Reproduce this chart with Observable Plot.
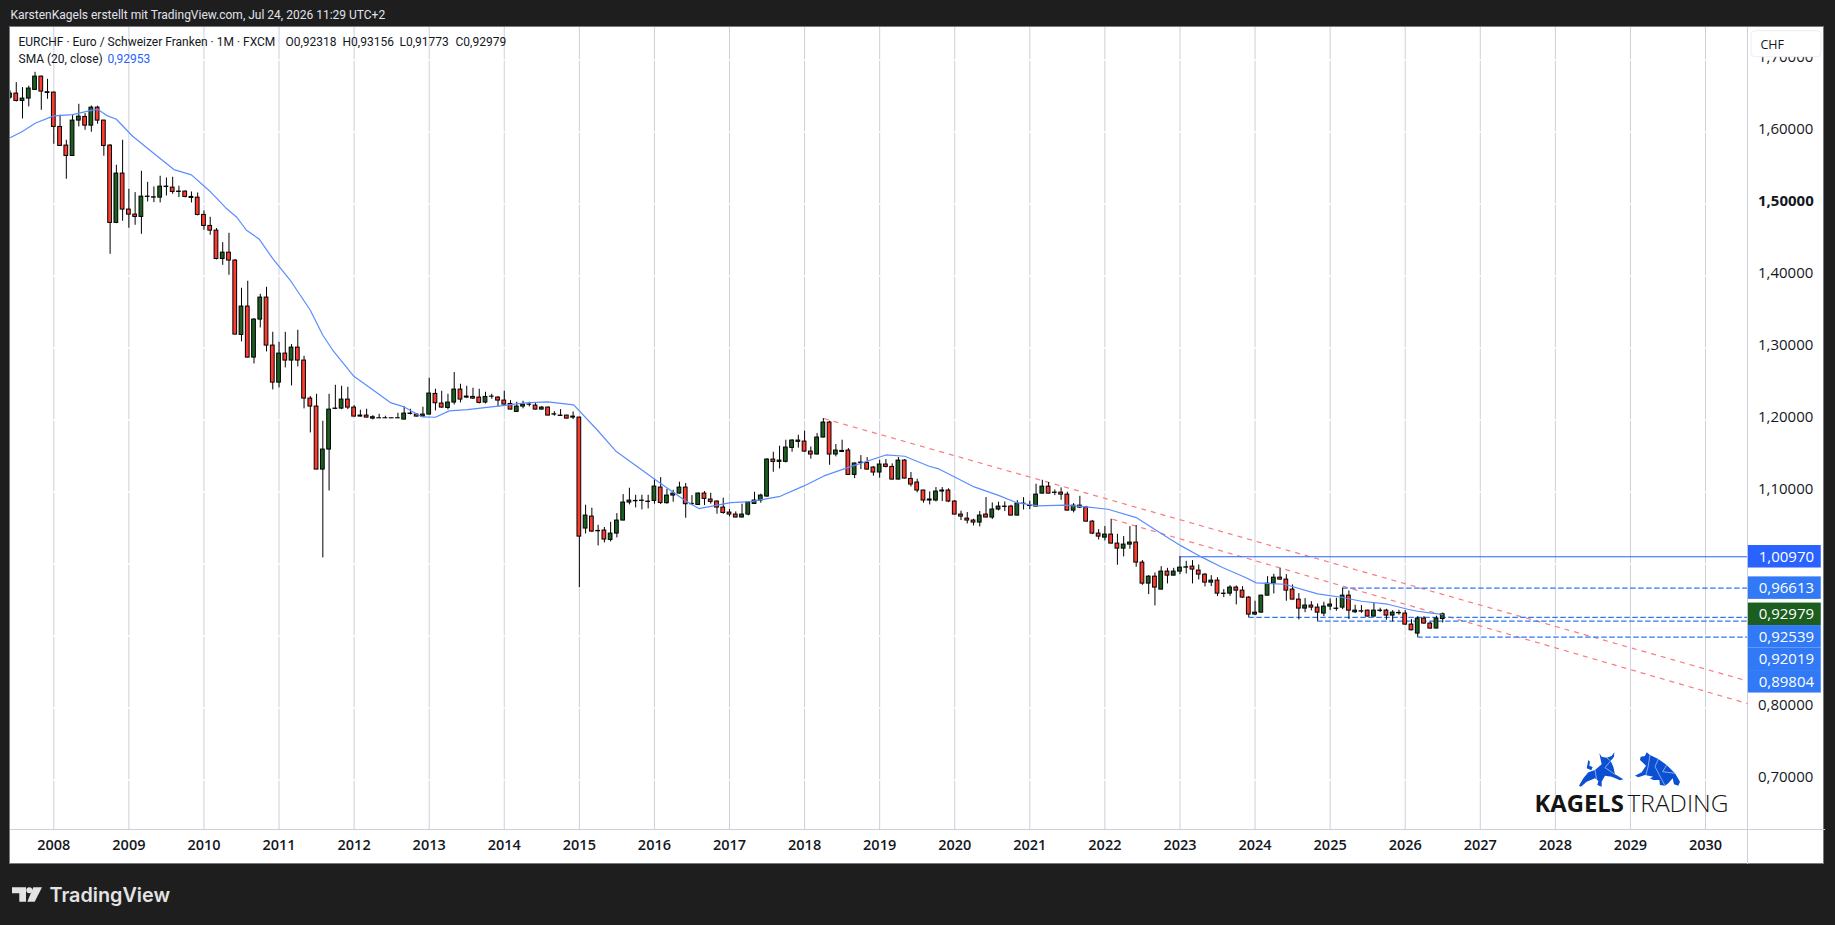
<!DOCTYPE html>
<html><head><meta charset="utf-8">
<script src="https://cdn.jsdelivr.net/npm/d3@7"></script>
<script src="https://cdn.jsdelivr.net/npm/@observablehq/plot@0.6"></script>
<style>
html,body{margin:0;padding:0;background:#1e1e1e;overflow:hidden;width:1835px;height:925px}
#panel{position:absolute;left:9px;top:26px;width:1813px;height:836px;background:#fff;border:1px solid #77797e;box-sizing:content-box}
#chart{position:absolute;left:0;top:0}
#chart svg{background:transparent;display:block}
#deco{position:absolute;left:0;top:0;pointer-events:none}
</style></head><body>
<div id="panel"></div><div id="chart"></div>
<svg id="deco" width="1835" height="925">
  <g fill="#e3e3e3"><path d="M12 887.3H26V901.7H19.3V893.3H12Z"/><circle cx="29.3" cy="890.3" r="3"/><path d="M33.3 887.3H42L34.7 901.7H27.3Z"/></g>
  <g transform="translate(1570 745) scale(.3333)" fill="#0b50d2">
    <path d="M27 122L40 100L55 82L75 75L95 58L88 25L95 35L110 38L125 33L133 22L132 35L122 48L130 65L135 88L160 103L150 106L125 95L105 92L95 110L95 125L82 120L85 108L75 100L50 110L33 125Z"/>
    <path d="M64 76L50 70L52 60L55 45L60 50L58 62L68 66Z"/>
    <path d="M195 92L215 82L228 62L210 45L212 35L225 33L230 22L240 30L265 42L290 60L315 85L330 110L325 122L312 118L308 100L295 115L285 122L270 120L268 105L250 105L240 100L250 95L225 90L205 97Z"/>
    <g stroke="#c6d6f5" stroke-width="2" fill="none"><path d="M75 75L80 105M110 38L122 48L105 68L135 88M240 30L235 62L228 90M265 42L255 65L285 122M290 60L278 80L315 85"/></g>
  </g>
</svg>
<script>
const firstMonth = -7; // month index, 0 = January 2008
const open = [1.6474,1.6530,1.6428,1.6461,1.6581,1.6766,1.6549,
1.6544,1.6067,1.5808,1.5664,1.6155,1.6206,1.6085,1.6335,1.6155,1.5808,1.4734,1.5419,
1.4919,1.4849,1.4817,1.5099,1.5085,1.5085,1.5238,1.5224,1.5169,1.5169,1.5081,1.5085,
1.4845,1.4692,1.4627,1.4233,1.4321,1.4211,1.3178,1.3572,1.2863,1.3391,1.3697,1.3030,
1.2516,1.2919,1.2822,1.3002,1.2822,1.2294,1.2183,1.1308,1.1586,1.2151,1.2155,1.2280,
1.2169,1.2044,1.2058,1.2016,1.2021,1.2021,1.2021,1.2020,1.2002,1.2086,1.2072,1.2044,
1.2072,1.2359,1.2225,1.2164,1.2239,1.2419,1.2308,1.2317,1.2308,1.2239,1.2322,1.2308,
1.2266,1.2220,1.2109,1.2183,1.2211,1.2197,1.2141,1.2169,1.2076,1.2058,1.2058,1.2030,
1.2030,1.0489,1.0655,1.0456,1.0461,1.0331,1.0419,1.0600,1.0850,1.0873,1.0877,1.0863,
1.0873,1.1058,1.0841,1.0947,1.0975,1.1058,1.0831,1.0817,1.0975,1.0892,1.0864,1.0780,
1.0711,1.0683,1.0642,1.0683,1.0831,1.0878,1.0933,1.1447,1.1415,1.1415,1.1609,1.1693,
1.1697,1.1558,1.1517,1.1753,1.1961,1.1517,1.1553,1.1572,1.1234,1.1405,1.1401,1.1336,
1.1267,1.1378,1.1345,1.1169,1.1433,1.1178,1.1128,1.1017,1.0878,1.0878,1.1003,1.1017,
1.0864,1.0683,1.0627,1.0600,1.0572,1.0683,1.0642,1.0753,1.0794,1.0794,1.0669,1.0835,
1.0807,1.0794,1.0974,1.1071,1.0988,1.0988,1.0960,1.0738,1.0807,1.0780,1.0585,1.0419,
1.0363,1.0405,1.0280,1.0210,1.0266,1.0294,1.0016,0.9724,0.9821,0.9641,0.9891,0.9835,
0.9891,0.9951,0.9960,0.9905,0.9849,0.9738,0.9766,0.9585,0.9585,0.9669,0.9627,0.9530,
0.9294,0.9321,0.9557,0.9724,0.9807,0.9780,0.9641,0.9502,0.9377,0.9419,0.9391,0.9308,
0.9405,0.9377,0.9391,0.9557,0.9326,0.9340,0.9349,0.9266,0.9349,0.9349,0.9280,0.9317,
0.9308,0.9155,0.9030,0.9238,0.9169,0.9100,0.92318];
const high = [1.657,1.6683,1.6613,1.6632,1.6826,1.6771,1.6729,
1.6550,1.6229,1.5882,1.6229,1.6382,1.6252,1.6358,1.6354,1.6160,1.5821,1.5535,1.5882,
1.5201,1.5155,1.5451,1.5298,1.5233,1.5382,1.5358,1.5368,1.5243,1.5178,1.5164,1.5150,
1.4900,1.4812,1.4655,1.4460,1.4590,1.4225,1.3826,1.3924,1.3405,1.3743,1.3840,1.3215,
1.3076,1.3215,1.3044,1.3243,1.2882,1.2322,1.2354,1.1979,1.2354,1.2479,1.2465,1.2451,
1.2197,1.2132,1.2146,1.2058,1.2076,1.2049,1.2023,1.2090,1.2183,1.2146,1.2086,1.2174,
1.2576,1.2424,1.2396,1.2354,1.2655,1.2493,1.2465,1.2437,1.2424,1.2382,1.2354,1.2322,
1.2396,1.2266,1.2243,1.2257,1.2243,1.2229,1.2183,1.2178,1.2113,1.2141,1.2062,1.2109,
1.2036,1.0813,1.0771,1.0535,1.0503,1.0576,1.0697,1.0961,1.1049,1.0951,1.0951,1.0951,
1.1169,1.1197,1.1035,1.1021,1.1132,1.1114,1.0947,1.0984,1.1003,1.0980,1.0873,1.0910,
1.0753,1.0720,1.0827,1.0859,1.0993,1.0966,1.1461,1.1549,1.1632,1.1716,1.1725,1.1785,
1.1841,1.1623,1.1808,1.2017,1.1980,1.1655,1.1716,1.1600,1.1401,1.1502,1.1475,1.1350,
1.1438,1.1447,1.1387,1.1475,1.1447,1.1267,1.1174,1.1021,1.0998,1.1058,1.1058,1.1040,
1.0878,1.0730,1.0711,1.0618,1.0725,1.0919,1.0845,1.0855,1.0859,1.0812,1.0877,1.0919,
1.0868,1.1104,1.1159,1.1127,1.1025,1.1053,1.0993,1.0835,1.0937,1.0798,1.0599,1.0474,
1.0516,1.0618,1.0409,1.0377,1.0516,1.0530,1.0044,0.9835,0.9872,0.9960,0.9937,0.9937,
1.0097,1.0034,1.0044,0.9983,0.9863,0.9835,0.9807,0.9641,0.9696,0.9692,0.9682,0.9544,
0.9479,0.9562,0.9821,0.9854,0.9937,0.9849,0.9706,0.9585,0.9516,0.9474,0.9442,0.9465,
0.9511,0.9520,0.96613,0.9622,0.9423,0.9419,0.9354,0.9456,0.9382,0.9368,0.9349,0.9354,
0.9349,0.9225,0.9266,0.9266,0.9187,0.9271,0.93156];
const low = [1.645,1.6414,1.6178,1.6345,1.6576,1.6298,1.6451,
1.5826,1.5798,1.5340,1.5660,1.6067,1.6021,1.5993,1.6104,1.5660,1.4298,1.4724,1.4757,
1.4660,1.4701,1.4576,1.5025,1.5016,1.5011,1.5108,1.5132,1.5085,1.5081,1.5011,1.4831,
1.4632,1.4562,1.4220,1.4145,1.4007,1.3180,1.3081,1.2860,1.2775,1.3275,1.2942,1.2414,
1.2442,1.2720,1.2470,1.2734,1.2151,1.1817,1.1305,1.0081,1.1011,1.2141,1.2141,1.2141,
1.2039,1.2039,1.2025,1.1998,1.2016,1.2016,1.2016,1.2016,1.2000,1.2067,1.2039,1.2039,
1.2067,1.2123,1.2160,1.2137,1.2206,1.2234,1.2294,1.2280,1.2220,1.2220,1.2285,1.2178,
1.2201,1.2137,1.2105,1.2151,1.2178,1.2137,1.2137,1.2053,1.2049,1.2050,1.2012,1.2002,
0.9669,1.0414,1.0433,1.0248,1.0289,1.0303,1.0359,1.0595,1.0817,1.0776,1.0748,1.0762,
1.0827,1.0822,1.0827,1.0855,1.0966,1.0632,1.0813,1.0808,1.0808,1.0827,1.0688,1.0688,
1.0651,1.0637,1.0637,1.0665,1.0822,1.0841,1.0924,1.1271,1.1317,1.1401,1.1549,1.1605,
1.1549,1.1452,1.1512,1.1748,1.1368,1.1484,1.1544,1.1230,1.1183,1.1308,1.1299,1.1216,
1.1188,1.1331,1.1164,1.1164,1.1178,1.1067,1.0984,1.0841,1.0817,1.0859,1.0864,1.0850,
1.0679,1.0600,1.0553,1.0525,1.0512,1.0637,1.0614,1.0734,1.0724,1.0664,1.0664,1.0747,
1.0752,1.0789,1.0970,1.0970,1.0946,1.0882,1.0733,1.0706,1.0766,1.0581,1.0405,1.0331,
1.0317,1.0275,0.9979,1.0095,1.0201,0.9951,0.9701,0.9571,0.9414,0.9636,0.9720,0.9831,
0.9849,0.9858,0.9720,0.9775,0.9678,0.9682,0.9544,0.9530,0.9548,0.9428,0.9520,0.92539,
0.9280,0.9317,0.9553,0.9581,0.9770,0.9479,0.9498,0.9220,0.9321,0.9345,0.92019,0.9266,
0.9349,0.9340,0.9363,0.9224,0.9308,0.9312,0.9262,0.9262,0.9321,0.9215,0.9192,0.9285,
0.9146,0.9067,0.89804,0.9160,0.9090,0.9095,0.91773];
const close = [1.6530,1.6428,1.6461,1.6600,1.6766,1.6558,1.6539,
1.6067,1.5803,1.5664,1.6155,1.6210,1.6085,1.6335,1.6155,1.5803,1.4734,1.5419,1.4919,
1.4849,1.4817,1.5099,1.5095,1.5090,1.5238,1.5233,1.5164,1.5164,1.5095,1.5095,1.4845,
1.4692,1.4627,1.4233,1.4321,1.4211,1.3183,1.3572,1.2863,1.3391,1.3697,1.3030,1.2516,
1.2919,1.2822,1.3002,1.2822,1.2294,1.2183,1.1308,1.1586,1.2141,1.2155,1.2280,1.2169,
1.2044,1.2058,1.2030,1.2035,1.2020,1.2020,1.2020,1.2021,1.2086,1.2081,1.2044,1.2072,
1.2364,1.2229,1.2169,1.2239,1.2419,1.2280,1.2322,1.2294,1.2234,1.2317,1.2320,1.2266,
1.2211,1.2141,1.2183,1.2211,1.2209,1.2141,1.2169,1.2058,1.2072,1.2053,1.2016,1.2044,
1.0377,1.0669,1.0447,1.0451,1.0336,1.0419,1.0600,1.0850,1.0877,1.0868,1.0873,1.0859,
1.1072,1.0845,1.0947,1.0975,1.1058,1.0827,1.0827,1.0975,1.0901,1.0859,1.0780,1.0706,
1.0683,1.0642,1.0683,1.0850,1.0878,1.0947,1.1447,1.1415,1.1433,1.1614,1.1711,1.1711,
1.1558,1.1517,1.1753,1.1961,1.1517,1.1572,1.1567,1.1234,1.1392,1.1401,1.1308,1.1267,
1.1378,1.1345,1.1169,1.1433,1.1183,1.1100,1.1017,1.0878,1.0892,1.1003,1.1017,1.0864,
1.0683,1.0655,1.0600,1.0572,1.0669,1.0642,1.0753,1.0794,1.0790,1.0669,1.0835,1.0831,
1.0803,1.0960,1.1071,1.0974,1.0984,1.0960,1.0738,1.0807,1.0780,1.0585,1.0419,1.0377,
1.0405,1.0280,1.0210,1.0266,1.0294,1.0016,0.9724,0.9821,0.9669,0.9891,0.9835,0.9891,
0.9946,0.9946,0.9919,0.9849,0.9738,0.9766,0.9585,0.9581,0.9669,0.9627,0.9530,0.9294,
0.9321,0.9557,0.9724,0.9807,0.9780,0.9627,0.9502,0.9377,0.9419,0.9391,0.9321,0.9405,
0.9433,0.9373,0.9557,0.9349,0.9349,0.9336,0.9266,0.9349,0.9345,0.9280,0.9321,0.9312,
0.9155,0.9076,0.9238,0.9169,0.9100,0.9238,0.92979];
const smaMonth = [-6.9,-5.1,-2.9,0,3,6,7,8.6,10,12.6,16.4,19.2,22,24.9,27.6,29.2,30.8,32.8,35,37.8,41,43,44.6,47.9,50.7,53.9,56,58.9,61,63.2,66.1,72.1,75.4,78.9,83.1,86.9,89.8,96.1,101,103.1,108.2,111.4,116.1,119.9,123.1,126.9,133,136,139.9,141.3,144.3,147.1,151,153.8,157.3,161.5,165,168.5,173,177.5,180.2,183.4,186.8,190.3,192.2,196.7,202,205.8,209,213.2,216.4,218,220.2,222];
const smaValue = [1.5919,1.6,1.6122,1.6220,1.6238,1.6298,1.6313,1.6220,1.6174,1.5938,1.5669,1.5475,1.5401,1.5178,1.4933,1.4817,1.4632,1.4512,1.4238,1.3937,1.3521,1.3174,1.2965,1.2609,1.2433,1.2234,1.2178,1.2039,1.2035,1.2123,1.2141,1.2201,1.2234,1.2248,1.2206,1.1854,1.1567,1.1169,1.0873,1.0766,1.0849,1.0863,1.0937,1.1081,1.1220,1.1336,1.1511,1.1493,1.1354,1.1322,1.1192,1.1067,1.0950,1.0850,1.0803,1.0813,1.0789,1.0757,1.0641,1.0391,1.0248,1.0095,0.9947,0.9817,0.9734,0.9715,0.9581,0.9535,0.9479,0.9438,0.9368,0.9340,0.9313,0.92953];
const levelValue = [1.0097,0.96613,0.92539,0.92019,0.89804];
const levelStart = [180,206,191,202,218];
const trendStart = [123.07,169.2];
const trendStartValue = [1.2017,1.0618];
const trendEndValue = [0.8372,0.8058];
const years = d3.range(2008,2031);
const priceTicks = [1.7,1.6,1.4,1.3,1.2,1.1,0.8,0.7];
const priceBold = [1.5];
const priceHidden = [1.0,0.9]; // gridlines only: their labels sit under the price tags

const xMin=-6.921, xMax=270.71, xPanelEnd=283.2, yMin=0.6309, yMax=1.7448, yPanelEnd=0.5823;
const COL={up:"#1b5e20",down:"#ff3b30",grid:"#ccd0da",ink:"#131722",sma:"#5b8cff",blue:"#3179f5",solid:"#2962ff",trend:"#f77c80"};
const comma=v=>v.toFixed(5).replace(".",",");
const candles=open.map((o,i)=>({m:firstMonth+i,o,h:high[i],l:low[i],c:close[i]}));
const sma=smaMonth.map((m,i)=>({m,v:smaValue[i]}));
const levels=levelValue.map((v,i)=>({v,m:levelStart[i],solid:i===0}));
const trends=trendStart.map((m,i)=>({m,v1:trendStartValue[i],v2:trendEndValue[i]}));
// price tags stack downward when they would overlap, as on the chart
const tagH=22.5/720;
const tags=[{v:1.0097,f:COL.solid},{v:0.96613,f:COL.blue},{v:0.92979,f:COL.up},{v:0.92539,f:COL.blue},{v:0.92019,f:COL.blue},{v:0.89804,f:COL.blue}];
let prev=Infinity; for(const t of tags){t.y=Math.min(t.v,prev-tagH);prev=t.y;}
const tagX1=270.85,tagX2=282.5,tagTextX=272.5;
const fontAxis="'Open Sans',sans-serif";
const legendStyle={frameAnchor:"top-left",textAnchor:"start",lineAnchor:"middle",fill:COL.ink,fontSize:12,fontFamily:"Roboto"};

const chart=Plot.plot({
  width:1835,height:925,marginLeft:10,marginRight:88,marginTop:27,marginBottom:96,
  style:{background:"transparent",fontFamily:fontAxis,color:COL.ink,overflow:"visible"},
  x:{type:"linear",domain:[xMin,xMax],label:null},
  y:{type:"linear",domain:[yMin,yMax],label:null},
  marks:[
    Plot.ruleX(years,{x:d=>(d-2008)*12,stroke:COL.grid,strokeWidth:1,strokeOpacity:1}),
    Plot.ruleY([...priceTicks,...priceBold,...priceHidden],{stroke:"#fff",strokeWidth:1.4,strokeOpacity:1}),
    Plot.ruleX([xMax],{y1:yPanelEnd,y2:yMax,stroke:COL.grid}),
    Plot.ruleY([yMin],{x1:xMin,x2:xPanelEnd,stroke:COL.grid}),
    Plot.axisX(years.map(d=>(d-2008)*12),{anchor:"bottom",tickSize:0,tickPadding:10,fontSize:14.5,fontWeight:600,label:null,tickFormat:d=>String(2008+d/12),fill:COL.ink}),
    Plot.axisY(priceTicks,{anchor:"right",tickSize:0,tickPadding:10.5,fontSize:15,label:null,tickFormat:comma,dy:-3,fill:COL.ink}),
    Plot.axisY(priceBold,{anchor:"right",tickSize:0,tickPadding:10.5,fontSize:15,fontWeight:700,label:null,tickFormat:comma,dy:-3,fill:COL.ink}),
    Plot.link(trends,{x1:"m",y1:"v1",x2:()=>xMax,y2:"v2",stroke:COL.trend,strokeWidth:1.2,strokeDasharray:"5,5"}),
    Plot.ruleY(levels.filter(d=>d.solid),{y:"v",x1:"m",x2:()=>xMax,stroke:COL.solid,strokeWidth:1.2}),
    Plot.ruleY(levels.filter(d=>!d.solid),{y:"v",x1:"m",x2:()=>xMax,stroke:COL.blue,strokeWidth:1.2,strokeDasharray:"5.5,2.5"}),
    Plot.ruleX(candles,{x:"m",y1:"l",y2:"h",stroke:"#000",strokeWidth:1,strokeOpacity:1,clip:"frame"}),
    Plot.rect(candles,{x1:d=>d.m-0.3,x2:d=>d.m+0.3,y1:d=>Math.min(d.o,d.c),y2:d=>Math.max(d.o,d.c),fill:d=>d.c>=d.o?COL.up:COL.down,stroke:"#000",strokeWidth:1,clip:"frame"}),
    Plot.line(sma,{x:"m",y:"v",stroke:COL.sma,strokeWidth:1.2,curve:"linear"}),
    Plot.rect(tags,{x1:()=>tagX1,x2:()=>tagX2,y1:d=>d.y-tagH/2,y2:d=>d.y+tagH/2,fill:"f"}),
    Plot.text(tags,{x:()=>tagTextX,y:"y",text:d=>comma(d.v),fill:"#fff",textAnchor:"start",fontSize:15,fontFamily:fontAxis}),
    Plot.text(["CHF"],{frameAnchor:"top-right",dx:13,dy:17.3,textAnchor:"start",lineAnchor:"middle",fill:COL.ink,fontSize:12.5,fontFamily:fontAxis}),
    Plot.text(["KarstenKagels erstellt mit TradingView.com, Jul 24, 2026 11:29 UTC+2"],{...legendStyle,dx:0,dy:-12.5,fill:"#e0e3eb"}),
    Plot.text(["EURCHF · Euro / Schweizer Franken · 1M · FXCM"],{...legendStyle,dx:8,dy:14.7}),
    Plot.text(["O0,92318"],{...legendStyle,dx:275,dy:14.7}),
    Plot.text(["H0,93156"],{...legendStyle,dx:332,dy:14.7}),
    Plot.text(["L0,91773"],{...legendStyle,dx:389,dy:14.7}),
    Plot.text(["C0,92979"],{...legendStyle,dx:445,dy:14.7}),
    Plot.text(["SMA (20, close)"],{...legendStyle,dx:8,dy:31.7}),
    Plot.text(["0,92953"],{...legendStyle,dx:97,dy:31.7,fill:COL.solid}),
    Plot.text(["KAGELS"],{...legendStyle,dx:1524,dy:777,fill:"#141414",fontSize:23.8,fontWeight:700,fontFamily:"'Open Sans'"}),
    Plot.text(["TRADING"],{...legendStyle,dx:1617,dy:777,fill:"#141414",fontSize:24.5,fontWeight:300,fontFamily:"'Open Sans'"}),
    Plot.text(["TradingView"],{...legendStyle,dx:39,dy:868,fill:"#e3e3e3",fontSize:19.8,fontWeight:600,fontFamily:"Inter"})
  ]
});
document.getElementById("chart").append(chart);
// CHF button frame goes behind its label, above the clipped 1,70000 axis label
const box=document.createElementNS("http://www.w3.org/2000/svg","rect");
box.setAttribute("x",1751);box.setAttribute("y",30.7);box.setAttribute("width",70);box.setAttribute("height",26);box.setAttribute("rx",4);
box.setAttribute("fill","#fff");box.setAttribute("stroke","#eceef2");
const label=[...chart.querySelectorAll("text")].find(t=>t.textContent==="CHF");
const host=label.closest("g");host.parentNode.insertBefore(box,host);
</script>
</body></html>
